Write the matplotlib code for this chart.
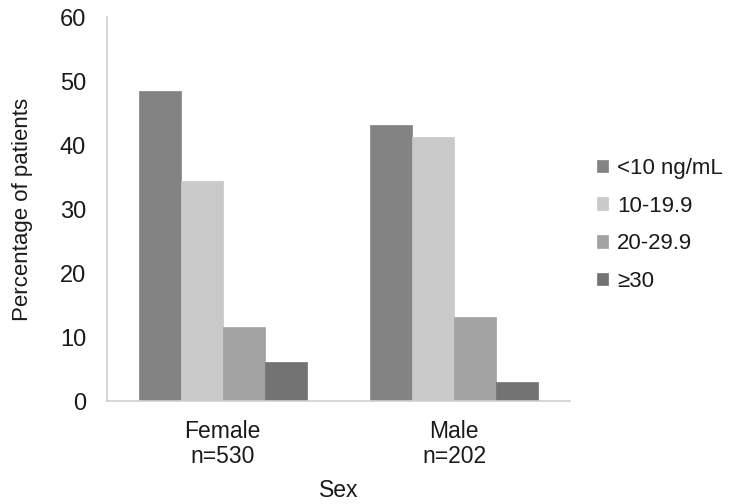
import matplotlib
matplotlib.use("Agg")
import matplotlib.pyplot as plt
import numpy as np

plt.rcParams['font.family'] = ['Liberation Sans', 'DejaVu Sans']

categories = ["Female\nn=530", "Male\nn=202"]
series_labels = ["<10 ng/mL", "10-19.9", "20-29.9", "≥30"]
values = [
    [48.4, 43.2],   # <10
    [34.3, 41.2],   # 10-19.9
    [11.6, 13.1],   # 20-29.9
    [6.1, 2.9],     # >=30
]
colors = ["#838383", "#c9c9c9", "#a2a2a2", "#737373"]
yticks = [0, 10, 20, 30, 40, 50, 60]

fig = plt.figure(figsize=(7.32, 5.04), dpi=100)
ax = fig.add_axes([107/732, 1 - 401/504, (570-107)/732, (401-17)/504])

x = np.arange(len(categories))
w = 0.181
n = len(series_labels)
for i, (lab, vals, c) in enumerate(zip(series_labels, values, colors)):
    ax.bar(x + (i - (n-1)/2) * w, vals, width=w, color=c, label=lab,
           edgecolor=c, linewidth=0.5)

ax.set_xlim(-0.5, 1.5)
ax.set_ylim(0, 60)
ax.set_yticks(yticks)
ax.set_xticks(x)
ax.set_xticklabels(categories, fontsize=16.5, linespacing=1.1)
ax.tick_params(axis='both', length=0, colors='#1a1a1a')
ax.tick_params(axis='y', pad=15, labelsize=17)
ax.tick_params(axis='x', pad=14)
for s in ['top', 'right']:
    ax.spines[s].set_visible(False)
for s in ['left', 'bottom']:
    ax.spines[s].set_color('#cfcfcf')
    ax.spines[s].set_linewidth(1.2)
ax.set_ylabel("Percentage of patients", fontsize=16, color='#1a1a1a', labelpad=19)
ax.set_xlabel("Sex", fontsize=16.5, color='#1a1a1a', labelpad=8)

leg = ax.legend(loc='center left', bbox_to_anchor=(588/732, 1 - 225/504),
                bbox_transform=fig.transFigure, frameon=False,
                fontsize=16, handlelength=0.5, handleheight=0.5,
                handletextpad=0.4, labelspacing=0.75, borderaxespad=0)
for t in leg.get_texts():
    t.set_color('#1a1a1a')

fig.savefig("out.png", dpi=100)
